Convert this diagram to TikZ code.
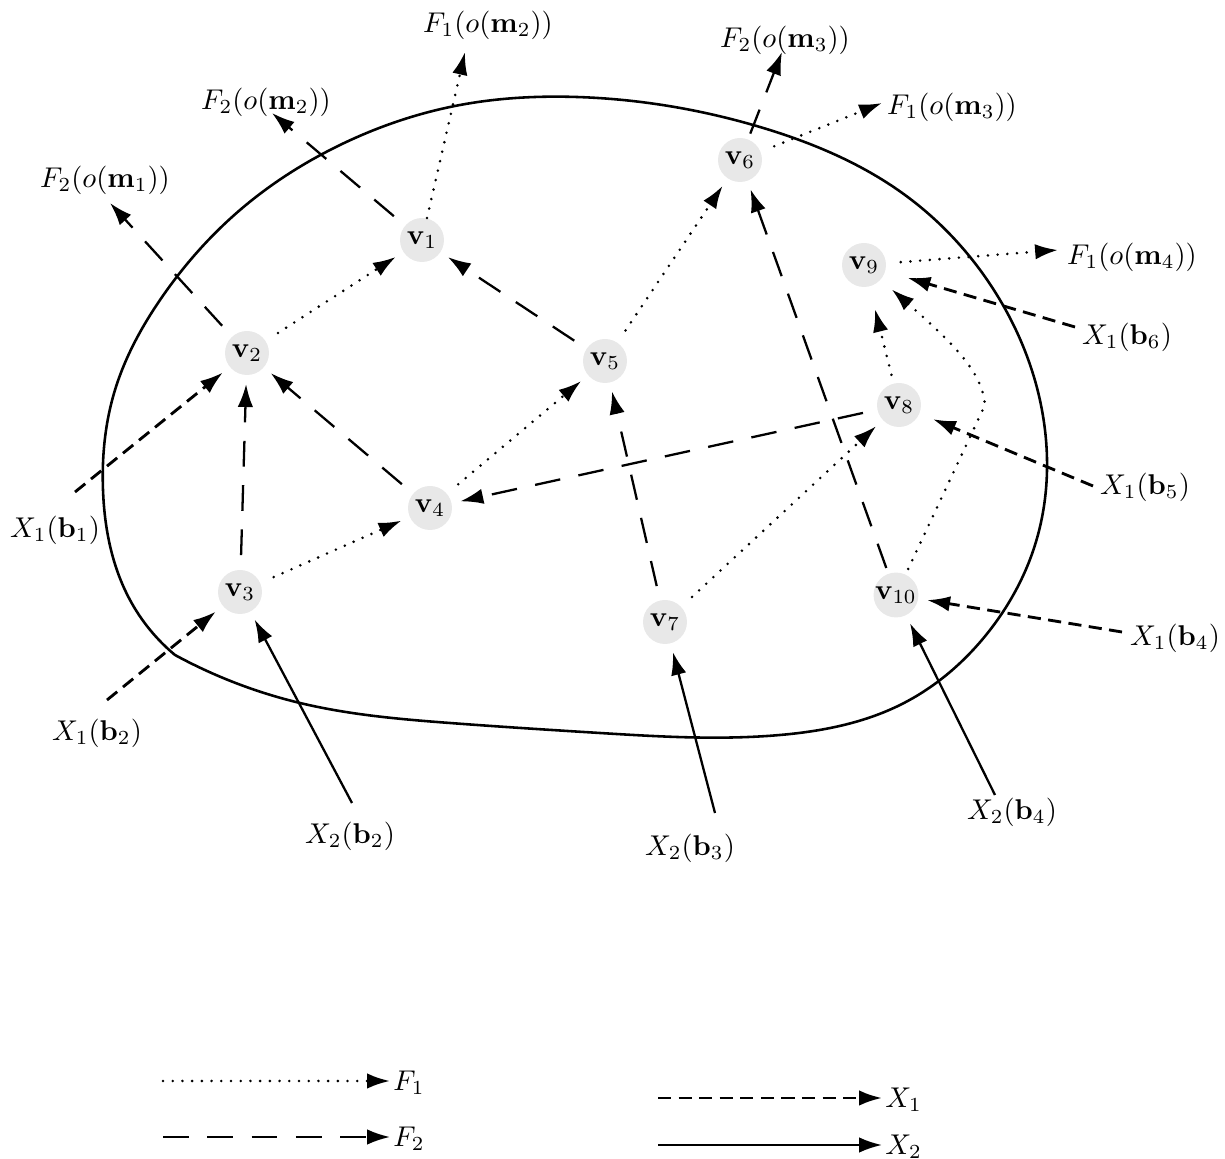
\documentclass[tikz,border=0pt]{standalone}
\usepackage{amsmath}
\usetikzlibrary{arrows.meta,hobby}
\tikzset{
  vnode/.style={circle, fill=gray!18, minimum size=15.4pt, inner sep=0pt},
  lab/.style={inner sep=1pt},
  tip/.style={-{Latex[length=8pt,width=5.4pt]}},
  f1/.style={tip, line width=1pt, line cap=round, dash pattern=on 0pt off 3.4pt, shorten <=5pt, shorten >=3pt},
  f2/.style={tip, line width=0.8pt, dash pattern=on 9pt off 6.5pt, shorten <=5pt, shorten >=3pt},
  x1/.style={tip, line width=1pt, dash pattern=on 4.6pt off 2.6pt, shorten >=3pt},
  x2/.style={tip, line width=0.8pt, shorten >=3pt},
  boundary/.style={line width=0.9pt},
}
\begin{document}
\begin{tikzpicture}[x=0.35pt,y=-0.35pt]
\useasboundingbox (0,0) rectangle (1225,1159);

% region boundary
\draw[boundary, use Hobby shortcut] (175,655) .. (300,703) .. (450,723) .. (600,733)
 .. (780,735) .. (900,705) .. (990,630) .. (1035,545) .. (1045,430) .. (1000,300)
 .. (905,195) .. (760,127) .. (577,97) .. (460,105) .. (340,145) .. (240,210)
 .. (160,300) .. (115,390) .. (103,490) .. (130,600) .. (175,655);

% nodes
\node[vnode] (v1) at (422,240) {$\mathbf{v}_1$};
\node[vnode] (v2) at (247,353) {$\mathbf{v}_2$};
\node[vnode] (v3) at (240,592) {$\mathbf{v}_3$};
\node[vnode] (v4) at (430,508) {$\mathbf{v}_4$};
\node[vnode] (v5) at (605,361) {$\mathbf{v}_5$};
\node[vnode] (v6) at (740,160) {$\mathbf{v}_6$};
\node[vnode] (v7) at (665,622) {$\mathbf{v}_7$};
\node[vnode] (v8) at (899,405) {$\mathbf{v}_8$};
\node[vnode] (v9) at (864,265) {$\mathbf{v}_9$};
\node[vnode] (v10) at (896,595) {$\mathbf{v}_{10}$};

% outer labels
\node[lab] (lF1m2) at (488,25) {$F_1(o(\mathbf{m}_2))$};
\node[lab] (lF2m2) at (266,102) {$F_2(o(\mathbf{m}_2))$};
\node[lab] (lF2m1) at (105,180) {$F_2(o(\mathbf{m}_1))$};
\node[lab] (lF2m3) at (785,40) {$F_2(o(\mathbf{m}_3))$};
\node[lab] (lF1m3) at (952,107) {$F_1(o(\mathbf{m}_3))$};
\node[lab] (lF1m4) at (1132,257) {$F_1(o(\mathbf{m}_4))$};
\node[lab] (lX1b6) at (1127,337) {$X_1(\mathbf{b}_6)$};
\node[lab] (lX1b5) at (1145,487) {$X_1(\mathbf{b}_5)$};
\node[lab] (lX1b1) at (55,530) {$X_1(\mathbf{b}_1)$};
\node[lab] (lX1b4) at (1175,638) {$X_1(\mathbf{b}_4)$};
\node[lab] (lX1b2) at (97,733) {$X_1(\mathbf{b}_2)$};
\node[lab] (lX2b2) at (350,836) {$X_2(\mathbf{b}_2)$};
\node[lab] (lX2b3) at (690,848) {$X_2(\mathbf{b}_3)$};
\node[lab] (lX2b4) at (1012,812) {$X_2(\mathbf{b}_4)$};

% free ends
\coordinate (eF1m2) at (465,52);
\coordinate (eF2m1) at (110,203);
\coordinate (eF2m2) at (272,113);
\coordinate (eF2m3) at (782,52);
\coordinate (eF1m3) at (882,103);
\coordinate (eF1m4) at (1058,250);
\coordinate (sX1b6) at (1075,327);
\coordinate (sX1b5) at (1093,486);
\coordinate (sX1b1) at (75,492);
\coordinate (sX1b4) at (1122,632);
\coordinate (sX1b2) at (107,700);
\coordinate (sX2b2) at (352,803);
\coordinate (sX2b3) at (715,813);
\coordinate (sX2b4) at (995,795);
\coordinate (c10a) at (985,405);
\coordinate (c10b) at (982,372);
\coordinate (c10c) at (955,345);

% F1 edges (dotted)
\draw[f1, shorten <=0pt, shorten >=0pt] (v1) -- (eF1m2);
\draw[f1] (v2) -- (v1);
\draw[f1] (v3) -- (v4);
\draw[f1] (v4) -- (v5);
\draw[f1] (v5) -- (v6);
\draw[f1, shorten >=0pt] (v6) -- (eF1m3);
\draw[f1, shorten >=0pt] (v9) -- (eF1m4);
\draw[f1, shorten <=3pt, shorten >=8pt] (v8) -- (v9);
\draw[f1, shorten <=2pt, shorten >=5pt] (v10) -- (c10a) .. controls (c10b) and (c10c) .. (v9);
\draw[f1] (v7) -- (v8);

% F2 edges (long dashes)
\draw[f2, shorten >=0pt] (v2) -- (eF2m1);
\draw[f2, shorten >=0pt] (v1) -- (eF2m2);
\draw[f2, shorten <=2pt, shorten >=0pt] (v6) -- (eF2m3);
\draw[f2] (v5) -- (v1);
\draw[f2] (v4) -- (v2);
\draw[f2] (v3) -- (v2);
\draw[f2] (v7) -- (v5);
\draw[f2, shorten <=2pt] (v10) -- (v6);
\draw[f2] (v8) -- (v4);

% X1 edges (short dashes)
\draw[x1] (sX1b1) -- (v2);
\draw[x1] (sX1b2) -- (v3);
\draw[x1, shorten >=8pt] (sX1b6) -- (v9);
\draw[x1, shorten >=5pt] (sX1b5) -- (v8);
\draw[x1] (sX1b4) -- (v10);

% X2 edges (solid)
\draw[x2] (sX2b2) -- (v3);
\draw[x2] (sX2b3) -- (v7);
\draw[x2] (sX2b4) -- (v10);

% legend
\coordinate (gF1) at (163,1081);
\coordinate (gF2) at (163,1137);
\coordinate (gX1) at (658,1098);
\coordinate (gX2) at (658,1145);
\node[lab, anchor=west] (lgF1) at (390,1083) {$F_1$};
\node[lab, anchor=west] (lgF2) at (390,1139) {$F_2$};
\node[lab, anchor=west] (lgX1) at (882,1100) {$X_1$};
\node[lab, anchor=west] (lgX2) at (882,1147) {$X_2$};
\draw[f1, shorten <=0pt, shorten >=0pt] (gF1) -- (lgF1.west |- gF1);
\draw[f2, shorten <=0pt, shorten >=0pt] (gF2) -- (lgF2.west |- gF2);
\draw[x1, shorten >=0pt] (gX1) -- (lgX1.west |- gX1);
\draw[x2, shorten >=0pt] (gX2) -- (lgX2.west |- gX2);
\end{tikzpicture}
\end{document}
